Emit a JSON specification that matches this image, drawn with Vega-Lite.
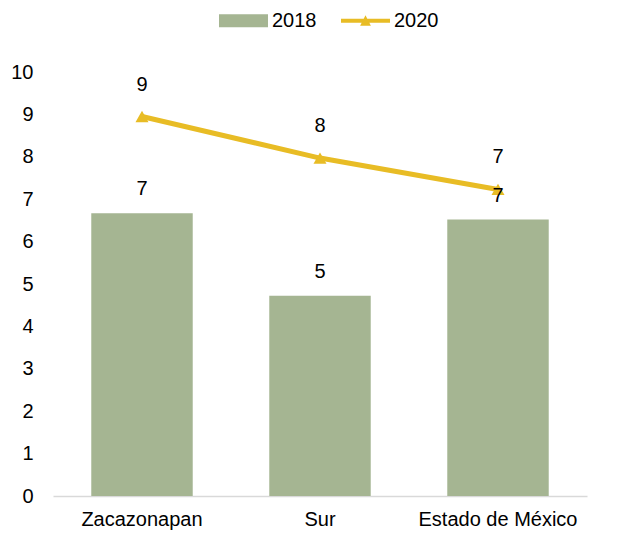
{
  "$schema": "https://vega.github.io/schema/vega-lite/v6.json",
  "width": 534,
  "height": 424,
  "autosize": "none",
  "padding": {"left": 53, "top": 72, "right": 45, "bottom": 46},
  "config": {
    "view": {"stroke": null},
    "font": "Liberation Sans",
    "axis": {"labelFont": "Liberation Sans", "labelFontSize": 20, "labelColor": "#000000", "grid": false, "ticks": false, "title": null, "labelOverlap": false}
  },
  "data": {
    "values": [
      {"region": "Zacazonapan", "serie": "2018", "valor": 6.67},
      {"region": "Sur", "serie": "2018", "valor": 4.72},
      {"region": "Estado de México", "serie": "2018", "valor": 6.52},
      {"region": "Zacazonapan", "serie": "2020", "valor": 8.95},
      {"region": "Sur", "serie": "2020", "valor": 7.97},
      {"region": "Estado de México", "serie": "2020", "valor": 7.23}
    ]
  },
  "encoding": {
    "x": {
      "field": "region", "type": "nominal", "sort": null,
      "scale": {"paddingInner": 0.43, "paddingOuter": 0.215},
      "axis": {"labelAngle": 0, "domainColor": "#D9D9D9", "domainWidth": 1.5, "labelPadding": 13}
    },
    "y": {
      "field": "valor", "type": "quantitative",
      "scale": {"domain": [0, 10], "nice": false},
      "axis": {"domain": false, "values": [0,1,2,3,4,5,6,7,8,9,10], "labelPadding": 20}
    }
  },
  "layer": [
    {
      "transform": [{"filter": "datum.serie == '2018'"}],
      "mark": {"type": "bar"},
      "encoding": {
        "color": {
          "field": "serie", "type": "nominal",
          "scale": {"domain": ["2018", "2020"], "range": ["#A5B592", "#E8BC25"]},
          "legend": {
            "title": null, "orient": "none", "direction": "horizontal",
            "legendX": 166, "legendY": -76,
            "labelFontSize": 20, "labelColor": "#000000", "labelFont": "Liberation Sans",
            "symbolSize": 2401, "symbolStrokeWidth": 0, "symbolOpacity": 1,
            "labelOffset": 4, "columnPadding": 24
          }
        }
      }
    },
    {
      "transform": [{"filter": "datum.serie == '2020'"}],
      "mark": {"type": "line", "color": "#E8BC25", "strokeWidth": 5}
    },
    {
      "transform": [{"filter": "datum.serie == '2020'"}],
      "mark": {"type": "point", "filled": true, "opacity": 1, "size": 0},
      "encoding": {
        "color": {"field": "serie", "type": "nominal"},
        "shape": {
          "field": "serie", "type": "nominal",
          "scale": {"domain": ["2018", "2020"], "range": ["M-1,-0.265H1V0.265H-1Z", "M-1,-0.08H1V0.08H-1Z M-0.22,0.2L0,-0.22L0.22,0.2Z"]}
        }
      }
    },
    {
      "transform": [{"filter": "datum.serie == '2020'"}],
      "mark": {"type": "point", "filled": true, "opacity": 1, "shape": "triangle-up", "size": 170, "color": "#E8BC25"}
    },
    {
      "transform": [{"filter": "datum.serie == '2018'"}],
      "mark": {"type": "text", "fontSize": 20, "color": "#000000", "baseline": "alphabetic", "dy": -18},
      "encoding": {"text": {"field": "valor", "type": "quantitative", "format": ".0f"}}
    },
    {
      "transform": [{"filter": "datum.serie == '2020'"}],
      "mark": {"type": "text", "fontSize": 20, "color": "#000000", "baseline": "alphabetic", "dy": -26},
      "encoding": {"text": {"field": "valor", "type": "quantitative", "format": ".0f"}}
    }
  ]
}
